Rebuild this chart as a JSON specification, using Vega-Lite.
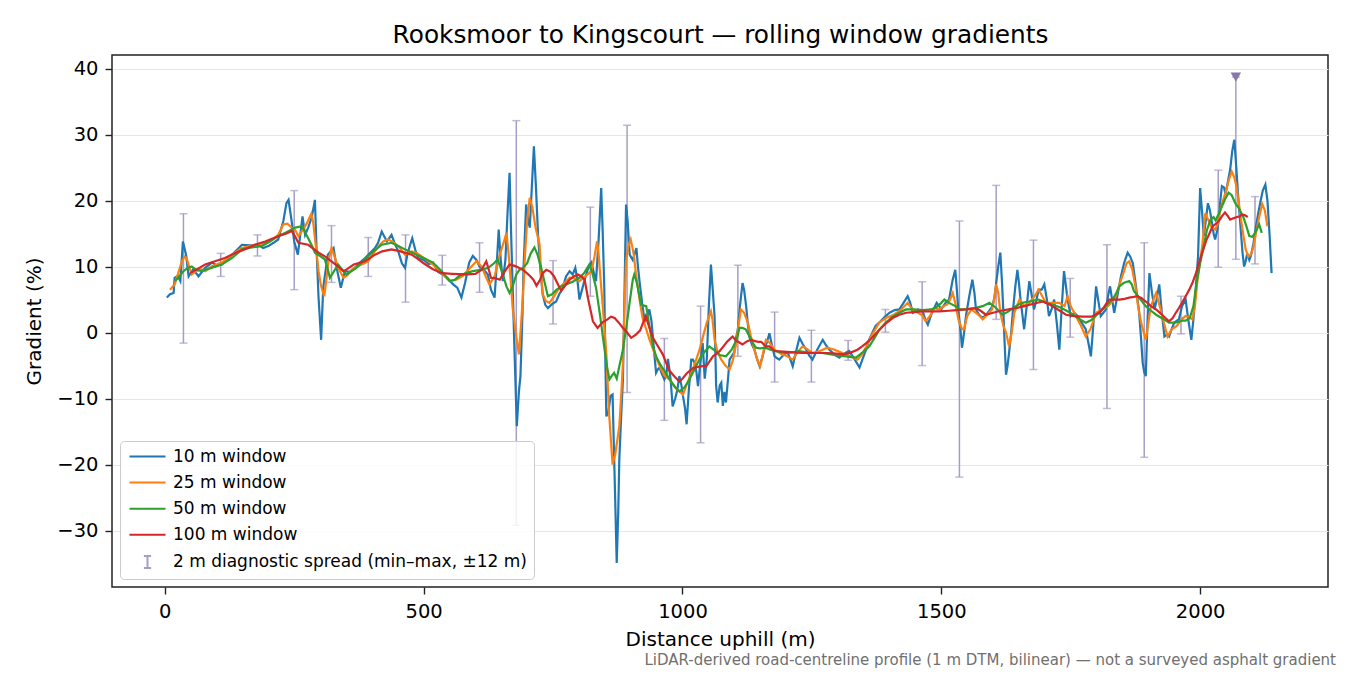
{
  "$schema": "https://vega.github.io/schema/vega-lite/v6.json",
  "autosize": {"type": "none"},
  "padding": {"left": 112, "top": 55, "right": 22, "bottom": 88},
  "background": "white",
  "width": 1216,
  "height": 532,
  "title": {
    "text": "LiDAR-derived road-centreline profile (1 m DTM, bilinear) — not a surveyed asphalt gradient",
    "orient": "bottom", "anchor": "end", "frame": "group",
    "fontSize": 15, "fontWeight": "normal", "color": "#707070",
    "baseline": "alphabetic", "offset": 15, "dx": 8
  },
  "datasets": {
    "w10": [
      {"d":4,"g":5.3},{"d":10,"g":5.8},{"d":17,"g":6.0},{"d":19,"g":8.3},{"d":25,"g":8.6},{"d":30,"g":7.8},{"d":35,"g":13.8},{"d":41,"g":11.8},{"d":46,"g":8.5},{"d":55,"g":9.6},{"d":65,"g":8.5},{"d":78,"g":9.8},{"d":91,"g":10.6},{"d":100,"g":10.2},{"d":110,"g":10.3},{"d":130,"g":11.8},{"d":149,"g":13.3},{"d":165,"g":13.2},{"d":181,"g":13.3},{"d":190,"g":12.8},{"d":200,"g":13.1},{"d":210,"g":13.6},{"d":219,"g":14.1},{"d":229,"g":16.9},{"d":235,"g":19.6},{"d":239,"g":20.1},{"d":245,"g":16.9},{"d":250,"g":13.8},{"d":257,"g":11.8},{"d":262,"g":15},{"d":266,"g":17.6},{"d":271,"g":14.8},{"d":277,"g":15.9},{"d":284,"g":17.5},{"d":290,"g":20.1},{"d":293,"g":12.9},{"d":297,"g":5.3},{"d":302,"g":-1.1},{"d":306,"g":6.8},{"d":315,"g":11.8},{"d":326,"g":12.8},{"d":332,"g":9.8},{"d":340,"g":6.8},{"d":348,"g":9.3},{"d":357,"g":9.2},{"d":367,"g":9.8},{"d":377,"g":10.6},{"d":387,"g":11.3},{"d":396,"g":12},{"d":406,"g":12.8},{"d":412,"g":13.6},{"d":419,"g":15.3},{"d":429,"g":13.8},{"d":438,"g":14.8},{"d":444,"g":13.5},{"d":451,"g":12.3},{"d":458,"g":10.5},{"d":464,"g":9.8},{"d":469,"g":12},{"d":474,"g":13.3},{"d":478,"g":14.3},{"d":484,"g":12.5},{"d":489,"g":11.3},{"d":500,"g":11},{"d":510,"g":10.4},{"d":518,"g":10.6},{"d":528,"g":9.2},{"d":537,"g":8.8},{"d":547,"g":8.2},{"d":557,"g":7.3},{"d":565,"g":6.8},{"d":573,"g":5.3},{"d":580,"g":7.5},{"d":588,"g":10.6},{"d":595,"g":11.6},{"d":602,"g":11},{"d":608,"g":10},{"d":616,"g":9.5},{"d":624,"g":8.8},{"d":630,"g":6.5},{"d":637,"g":5.3},{"d":641,"g":10},{"d":645,"g":15.6},{"d":649,"g":11},{"d":653,"g":7.8},{"d":658,"g":11},{"d":662,"g":18},{"d":666,"g":24.2},{"d":669,"g":15},{"d":672,"g":6.8},{"d":676,"g":-4},{"d":680,"g":-14.2},{"d":684,"g":-9},{"d":687,"g":-6.6},{"d":691,"g":3},{"d":693,"g":9.8},{"d":698,"g":19.4},{"d":702,"g":17},{"d":705,"g":15.9},{"d":709,"g":22},{"d":713,"g":28.2},{"d":717,"g":22},{"d":721,"g":14.8},{"d":726,"g":9},{"d":730,"g":5.8},{"d":735,"g":4.2},{"d":740,"g":3.7},{"d":748,"g":4.3},{"d":756,"g":4.7},{"d":762,"g":5.8},{"d":769,"g":6.8},{"d":775,"g":8.5},{"d":782,"g":9.3},{"d":788,"g":8.8},{"d":793,"g":9.8},{"d":797,"g":8},{"d":801,"g":5},{"d":806,"g":6.5},{"d":811,"g":8},{"d":818,"g":9.8},{"d":824,"g":10.6},{"d":829,"g":9},{"d":833,"g":7.8},{"d":838,"g":14},{"d":843,"g":21.9},{"d":846,"g":15},{"d":849,"g":6.8},{"d":851,"g":-4},{"d":853,"g":-12.7},{"d":857,"g":-12},{"d":861,"g":-9.6},{"d":865,"g":-9.4},{"d":869,"g":-22},{"d":873,"g":-34.9},{"d":876,"g":-27},{"d":878,"g":-19.2},{"d":882,"g":-12},{"d":885,"g":-7.1},{"d":888,"g":6},{"d":891,"g":19.4},{"d":894,"g":17},{"d":898,"g":11.8},{"d":904,"g":11},{"d":911,"g":12.8},{"d":914,"g":10},{"d":917,"g":7.8},{"d":922,"g":4.5},{"d":927,"g":1.7},{"d":932,"g":2.5},{"d":936,"g":3.5},{"d":940,"g":1.8},{"d":943,"g":-0.8},{"d":946,"g":-3.5},{"d":949,"g":-6.1},{"d":953,"g":-5.5},{"d":956,"g":-5.3},{"d":960,"g":-6.2},{"d":965,"g":-7.1},{"d":969,"g":-6.3},{"d":972,"g":-4.0},{"d":977,"g":-7},{"d":981,"g":-11.2},{"d":986,"g":-10},{"d":990,"g":-8.7},{"d":994,"g":-6.6},{"d":998,"g":-8},{"d":1001,"g":-9.6},{"d":1005,"g":-11.5},{"d":1008,"g":-13.9},{"d":1012,"g":-9},{"d":1017,"g":-4.1},{"d":1020,"g":-4.1},{"d":1023,"g":-4.5},{"d":1027,"g":-6},{"d":1030,"g":-8.1},{"d":1034,"g":-5},{"d":1039,"g":-1.6},{"d":1043,"g":-7},{"d":1047,"g":-4},{"d":1051,"g":4},{"d":1055,"g":10.3},{"d":1058,"g":7},{"d":1062,"g":2.5},{"d":1065,"g":-8},{"d":1068,"g":-10.6},{"d":1072,"g":-8},{"d":1075,"g":-7.6},{"d":1078,"g":-11.1},{"d":1081,"g":-9},{"d":1084,"g":-10.6},{"d":1088,"g":-7},{"d":1091,"g":-4.1},{"d":1096,"g":-3.5},{"d":1100,"g":-3},{"d":1103,"g":-1},{"d":1107,"g":0.5},{"d":1111,"g":4},{"d":1116,"g":7.5},{"d":1119,"g":6.5},{"d":1123,"g":4.0},{"d":1126,"g":1.5},{"d":1129,"g":-0.6},{"d":1134,"g":-1.8},{"d":1139,"g":-2.6},{"d":1144,"g":-4},{"d":1149,"g":-5.1},{"d":1154,"g":-3.8},{"d":1158,"g":-2.6},{"d":1163,"g":-1.5},{"d":1168,"g":-0.1},{"d":1173,"g":-2},{"d":1178,"g":-3.6},{"d":1183,"g":-3.9},{"d":1187,"g":-4.1},{"d":1195,"g":-3.4},{"d":1203,"g":-3},{"d":1208,"g":-4},{"d":1213,"g":-5.1},{"d":1219,"g":-3},{"d":1226,"g":-0.8},{"d":1232,"g":-1.7},{"d":1239,"g":-2.6},{"d":1245,"g":-3.5},{"d":1251,"g":-4.1},{"d":1261,"g":-2.5},{"d":1271,"g":-1.1},{"d":1278,"g":-2},{"d":1284,"g":-2.6},{"d":1293,"g":-3.3},{"d":1303,"g":-3.8},{"d":1312,"g":-3.2},{"d":1322,"g":-2.8},{"d":1332,"g":-4},{"d":1342,"g":-5.3},{"d":1348,"g":-4},{"d":1355,"g":-2.5},{"d":1361,"g":-1},{"d":1367,"g":0},{"d":1373,"g":1},{"d":1380,"g":1.5},{"d":1390,"g":2.3},{"d":1400,"g":3},{"d":1410,"g":3.4},{"d":1419,"g":3.5},{"d":1427,"g":4.5},{"d":1435,"g":5.5},{"d":1440,"g":4.5},{"d":1445,"g":3.0},{"d":1455,"g":3.5},{"d":1464,"g":3.2},{"d":1469,"g":2},{"d":1474,"g":1.2},{"d":1482,"g":3},{"d":1491,"g":4.5},{"d":1496,"g":4},{"d":1500,"g":3.5},{"d":1508,"g":4.5},{"d":1515,"g":5.0},{"d":1522,"g":8.0},{"d":1527,"g":9.5},{"d":1530,"g":6.5},{"d":1533,"g":3.2},{"d":1537,"g":0.5},{"d":1540,"g":-2.3},{"d":1544,"g":0},{"d":1548,"g":2.7},{"d":1554,"g":5.5},{"d":1560,"g":8},{"d":1564,"g":6},{"d":1567,"g":3.5},{"d":1573,"g":2.7},{"d":1580,"g":2.2},{"d":1590,"g":3},{"d":1599,"g":4},{"d":1603,"g":5.5},{"d":1606,"g":7.5},{"d":1610,"g":10},{"d":1614,"g":12.1},{"d":1617,"g":8},{"d":1620,"g":3},{"d":1622,"g":-1},{"d":1625,"g":-6.4},{"d":1628,"g":-5},{"d":1631,"g":-3},{"d":1635,"g":0},{"d":1638,"g":3},{"d":1643,"g":7},{"d":1647,"g":9.5},{"d":1650,"g":7.5},{"d":1653,"g":5},{"d":1657,"g":2.5},{"d":1660,"g":0.5},{"d":1665,"g":4},{"d":1670,"g":7.8},{"d":1675,"g":5.5},{"d":1679,"g":3.5},{"d":1684,"g":5},{"d":1688,"g":6.5},{"d":1694,"g":6.5},{"d":1699,"g":7.3},{"d":1704,"g":5},{"d":1708,"g":2.5},{"d":1713,"g":3.5},{"d":1718,"g":5},{"d":1723,"g":1.5},{"d":1728,"g":-2.6},{"d":1732,"g":3},{"d":1737,"g":9.3},{"d":1740,"g":7.5},{"d":1744,"g":5},{"d":1750,"g":2.5},{"d":1757,"g":3},{"d":1763,"g":2.5},{"d":1771,"g":1.5},{"d":1779,"g":0.5},{"d":1784,"g":-1.5},{"d":1789,"g":-3.6},{"d":1794,"g":1.5},{"d":1799,"g":7.0},{"d":1804,"g":4.5},{"d":1808,"g":2.5},{"d":1813,"g":3},{"d":1818,"g":3.5},{"d":1822,"g":5.5},{"d":1826,"g":7.0},{"d":1830,"g":5},{"d":1834,"g":3.0},{"d":1840,"g":5.5},{"d":1847,"g":8.5},{"d":1853,"g":10.5},{"d":1860,"g":12.1},{"d":1865,"g":11.5},{"d":1870,"g":10.5},{"d":1876,"g":7},{"d":1882,"g":3.2},{"d":1886,"g":-1},{"d":1889,"g":-4.6},{"d":1892,"g":-6},{"d":1895,"g":-6.6},{"d":1898,"g":1},{"d":1902,"g":9.0},{"d":1907,"g":6},{"d":1912,"g":3.5},{"d":1916,"g":5},{"d":1921,"g":7.3},{"d":1926,"g":3},{"d":1931,"g":-0.6},{"d":1936,"g":-0.3},{"d":1940,"g":-0.6},{"d":1945,"g":0.5},{"d":1950,"g":1.5},{"d":1955,"g":1.8},{"d":1959,"g":2},{"d":1965,"g":4},{"d":1972,"g":5},{"d":1977,"g":2},{"d":1983,"g":-1.1},{"d":1987,"g":2},{"d":1991,"g":6},{"d":1996,"g":11.6},{"d":2000,"g":21.9},{"d":2004,"g":18},{"d":2007,"g":14.6},{"d":2011,"g":17},{"d":2015,"g":19.6},{"d":2019,"g":18.5},{"d":2022,"g":17},{"d":2026,"g":15},{"d":2029,"g":14.1},{"d":2033,"g":15.5},{"d":2036,"g":17},{"d":2039,"g":20},{"d":2042,"g":22.2},{"d":2046,"g":22},{"d":2049,"g":21},{"d":2054,"g":23},{"d":2058,"g":24.7},{"d":2062,"g":27.5},{"d":2066,"g":29.2},{"d":2069,"g":26},{"d":2073,"g":21.2},{"d":2076,"g":18},{"d":2079,"g":15},{"d":2082,"g":12},{"d":2085,"g":10},{"d":2088,"g":10.8},{"d":2091,"g":12},{"d":2095,"g":11},{"d":2098,"g":11.6},{"d":2103,"g":13.5},{"d":2108,"g":16.1},{"d":2112,"g":18},{"d":2117,"g":20},{"d":2121,"g":21.5},{"d":2126,"g":22.4},{"d":2130,"g":20},{"d":2134,"g":15},{"d":2138,"g":9.0}
    ],
    "w25": [
      {"d":10,"g":6.5},{"d":19,"g":7.3},{"d":26,"g":9},{"d":33,"g":10.8},{"d":38,"g":11.5},{"d":42,"g":11.3},{"d":47,"g":10},{"d":52,"g":8.8},{"d":60,"g":9.3},{"d":70,"g":9.6},{"d":78,"g":9.3},{"d":90,"g":10},{"d":100,"g":10.3},{"d":110,"g":10.6},{"d":130,"g":11.8},{"d":149,"g":12.8},{"d":170,"g":13.2},{"d":194,"g":13.6},{"d":210,"g":14.2},{"d":219,"g":14.8},{"d":229,"g":16.4},{"d":237,"g":16.5},{"d":245,"g":15.9},{"d":252,"g":15.5},{"d":258,"g":14.6},{"d":266,"g":15.5},{"d":274,"g":16.5},{"d":283,"g":18.0},{"d":287,"g":16.5},{"d":290,"g":14.3},{"d":294,"g":11.5},{"d":297,"g":9.3},{"d":302,"g":7},{"d":308,"g":5.5},{"d":312,"g":8},{"d":316,"g":10.8},{"d":322,"g":12.8},{"d":328,"g":11.5},{"d":335,"g":9.8},{"d":345,"g":8.3},{"d":353,"g":8.7},{"d":362,"g":9.6},{"d":377,"g":10.2},{"d":393,"g":10.8},{"d":403,"g":12},{"d":413,"g":13.1},{"d":422,"g":13.8},{"d":432,"g":14.1},{"d":441,"g":13.7},{"d":451,"g":13.1},{"d":464,"g":11.8},{"d":477,"g":12.3},{"d":486,"g":12.1},{"d":500,"g":11.3},{"d":518,"g":10.3},{"d":535,"g":9},{"d":550,"g":7.8},{"d":563,"g":8},{"d":576,"g":8.6},{"d":590,"g":9.8},{"d":602,"g":10.8},{"d":612,"g":10},{"d":620,"g":8.5},{"d":627,"g":7.3},{"d":637,"g":8.5},{"d":647,"g":11.8},{"d":654,"g":13.5},{"d":660,"g":15.1},{"d":664,"g":12},{"d":668,"g":8},{"d":672,"g":3.7},{"d":678,"g":0},{"d":684,"g":-3.3},{"d":688,"g":1},{"d":692,"g":5.8},{"d":696,"g":12},{"d":700,"g":17},{"d":705,"g":20.4},{"d":710,"g":19},{"d":716,"g":16},{"d":724,"g":13.3},{"d":727,"g":9},{"d":730,"g":5.8},{"d":736,"g":4.8},{"d":743,"g":4.5},{"d":752,"g":5.5},{"d":762,"g":6.8},{"d":772,"g":7.5},{"d":782,"g":8.3},{"d":792,"g":8.2},{"d":801,"g":7.8},{"d":812,"g":8.5},{"d":824,"g":9.3},{"d":830,"g":11.5},{"d":835,"g":13.8},{"d":838,"g":12},{"d":840,"g":9.8},{"d":846,"g":4},{"d":853,"g":-3.3},{"d":858,"g":-12},{"d":865,"g":-20},{"d":870,"g":-18.5},{"d":878,"g":-14.2},{"d":882,"g":-9},{"d":885,"g":-4.6},{"d":888,"g":4},{"d":891,"g":10.8},{"d":895,"g":13},{"d":900,"g":14.1},{"d":903,"g":13},{"d":906,"g":11.8},{"d":910,"g":9},{"d":914,"g":6.8},{"d":918,"g":4.5},{"d":923,"g":2.2},{"d":930,"g":0.5},{"d":936,"g":-1},{"d":943,"g":-2.5},{"d":950,"g":-4},{"d":956,"g":-5.1},{"d":965,"g":-6.5},{"d":975,"g":-7.1},{"d":988,"g":-8.5},{"d":1001,"g":-9.4},{"d":1010,"g":-7.5},{"d":1020,"g":-5.6},{"d":1027,"g":-4},{"d":1033,"g":-2.6},{"d":1040,"g":-0.5},{"d":1047,"g":1.5},{"d":1055,"g":3.2},{"d":1058,"g":2},{"d":1062,"g":-1.1},{"d":1068,"g":-3},{"d":1075,"g":-4.1},{"d":1083,"g":-5},{"d":1091,"g":-5.6},{"d":1097,"g":-4.3},{"d":1103,"g":-2},{"d":1108,"g":1},{"d":1113,"g":3.5},{"d":1119,"g":3},{"d":1126,"g":1.6},{"d":1132,"g":-0.5},{"d":1139,"g":-2.6},{"d":1145,"g":-4.2},{"d":1150,"g":-5.1},{"d":1155,"g":-3.5},{"d":1161,"g":-1.1},{"d":1168,"g":-1.5},{"d":1178,"g":-2.6},{"d":1190,"g":-3.2},{"d":1200,"g":-3.5},{"d":1213,"g":-4.1},{"d":1222,"g":-3},{"d":1232,"g":-2.1},{"d":1241,"g":-2.5},{"d":1251,"g":-3.1},{"d":1265,"g":-2.8},{"d":1280,"g":-2.3},{"d":1294,"g":-2.6},{"d":1309,"g":-3.1},{"d":1322,"g":-3.5},{"d":1330,"g":-3.8},{"d":1338,"g":-4.1},{"d":1346,"g":-3.4},{"d":1355,"g":-2.1},{"d":1365,"g":-0.5},{"d":1380,"g":1.5},{"d":1393,"g":2.2},{"d":1406,"g":2.6},{"d":1420,"g":3.3},{"d":1435,"g":4.5},{"d":1444,"g":3.5},{"d":1455,"g":3},{"d":1463,"g":2.6},{"d":1470,"g":1.7},{"d":1478,"g":2.5},{"d":1487,"g":3.7},{"d":1496,"g":3.5},{"d":1505,"g":4},{"d":1512,"g":4.3},{"d":1517,"g":5},{"d":1522,"g":6.0},{"d":1527,"g":4.5},{"d":1533,"g":2},{"d":1540,"g":0.5},{"d":1544,"g":0.5},{"d":1550,"g":2.5},{"d":1558,"g":3.5},{"d":1567,"g":3},{"d":1574,"g":2.5},{"d":1580,"g":2.0},{"d":1590,"g":2.8},{"d":1598,"g":3.5},{"d":1602,"g":5},{"d":1606,"g":7.3},{"d":1610,"g":6},{"d":1614,"g":3},{"d":1620,"g":1},{"d":1625,"g":0},{"d":1631,"g":-2.1},{"d":1636,"g":0},{"d":1641,"g":3},{"d":1651,"g":5},{"d":1660,"g":4},{"d":1670,"g":4.5},{"d":1680,"g":5.5},{"d":1688,"g":6.5},{"d":1695,"g":5.5},{"d":1702,"g":4.5},{"d":1715,"g":4.5},{"d":1728,"g":4.5},{"d":1738,"g":4},{"d":1744,"g":5.5},{"d":1750,"g":4},{"d":1760,"g":2.5},{"d":1770,"g":1},{"d":1779,"g":-0.6},{"d":1788,"g":0.5},{"d":1799,"g":3},{"d":1810,"g":3.5},{"d":1822,"g":4},{"d":1831,"g":4.8},{"d":1837,"g":5.5},{"d":1845,"g":7.5},{"d":1853,"g":9.3},{"d":1858,"g":10.5},{"d":1863,"g":10.8},{"d":1869,"g":9.5},{"d":1875,"g":7},{"d":1880,"g":4},{"d":1886,"g":1.5},{"d":1891,"g":0},{"d":1895,"g":-1.1},{"d":1900,"g":1.5},{"d":1905,"g":4},{"d":1915,"g":6.0},{"d":1922,"g":4},{"d":1930,"g":1.5},{"d":1937,"g":-0.6},{"d":1945,"g":0.5},{"d":1955,"g":1},{"d":1964,"g":2},{"d":1972,"g":2.5},{"d":1979,"g":2.3},{"d":1985,"g":2},{"d":1990,"g":4},{"d":1995,"g":8},{"d":2000,"g":11},{"d":2004,"g":13.1},{"d":2010,"g":18.1},{"d":2016,"g":17},{"d":2022,"g":16},{"d":2029,"g":15.6},{"d":2034,"g":16.5},{"d":2039,"g":18.6},{"d":2044,"g":20},{"d":2049,"g":21.2},{"d":2055,"g":23},{"d":2061,"g":24.4},{"d":2066,"g":23.5},{"d":2070,"g":22.2},{"d":2075,"g":19.5},{"d":2079,"g":17.1},{"d":2084,"g":14.5},{"d":2088,"g":12.6},{"d":2093,"g":11.5},{"d":2098,"g":11.8},{"d":2103,"g":13},{"d":2108,"g":15.1},{"d":2114,"g":17.5},{"d":2120,"g":19.5},{"d":2125,"g":18.5},{"d":2130,"g":16.1}
    ],
    "w50": [
      {"d":20,"g":7.8},{"d":28,"g":8.5},{"d":36,"g":9.3},{"d":44,"g":9.8},{"d":52,"g":10.0},{"d":61,"g":9.5},{"d":71,"g":9.3},{"d":90,"g":9.8},{"d":110,"g":10.3},{"d":130,"g":11.3},{"d":149,"g":12.6},{"d":168,"g":12.9},{"d":187,"g":13.1},{"d":203,"g":13.8},{"d":219,"g":14.6},{"d":235,"g":15.2},{"d":252,"g":15.9},{"d":265,"g":16.1},{"d":277,"g":14.3},{"d":284,"g":13.2},{"d":290,"g":12.1},{"d":300,"g":11.6},{"d":309,"g":11.1},{"d":314,"g":9.8},{"d":319,"g":8.3},{"d":327,"g":9.3},{"d":335,"g":10.3},{"d":343,"g":9.5},{"d":351,"g":8.8},{"d":370,"g":9.8},{"d":387,"g":11.1},{"d":403,"g":12.3},{"d":419,"g":13.3},{"d":438,"g":13.6},{"d":451,"g":13.1},{"d":464,"g":12.6},{"d":486,"g":11.8},{"d":500,"g":11.3},{"d":518,"g":10.6},{"d":535,"g":9.3},{"d":550,"g":7.8},{"d":560,"g":8},{"d":569,"g":8.6},{"d":582,"g":9},{"d":595,"g":9.3},{"d":610,"g":9.5},{"d":625,"g":9.8},{"d":636,"g":10.5},{"d":643,"g":11.1},{"d":648,"g":10},{"d":653,"g":8.8},{"d":660,"g":7},{"d":666,"g":6.0},{"d":672,"g":7},{"d":679,"g":8.8},{"d":685,"g":9.5},{"d":692,"g":9.8},{"d":700,"g":10.5},{"d":707,"g":12},{"d":714,"g":12.9},{"d":720,"g":11.8},{"d":727,"g":9.8},{"d":734,"g":7.5},{"d":740,"g":5.5},{"d":748,"g":5.8},{"d":757,"g":6.5},{"d":766,"g":7},{"d":775,"g":7.3},{"d":788,"g":7.7},{"d":801,"g":8.3},{"d":810,"g":9},{"d":820,"g":10.3},{"d":826,"g":9},{"d":833,"g":6.8},{"d":841,"g":2.5},{"d":849,"g":-2.3},{"d":855,"g":-5.5},{"d":859,"g":-7.1},{"d":864,"g":-6.5},{"d":868,"g":-6.1},{"d":873,"g":-7},{"d":878,"g":-5.1},{"d":884,"g":-3},{"d":891,"g":0.5},{"d":897,"g":4},{"d":904,"g":8},{"d":907,"g":8.8},{"d":912,"g":7.5},{"d":920,"g":4.2},{"d":930,"g":4},{"d":936,"g":1},{"d":943,"g":-2.1},{"d":950,"g":-3.8},{"d":959,"g":-5.1},{"d":967,"g":-6},{"d":975,"g":-7.1},{"d":985,"g":-8.2},{"d":994,"g":-8.9},{"d":1004,"g":-8.3},{"d":1012,"g":-7.3},{"d":1020,"g":-6.1},{"d":1028,"g":-4.8},{"d":1036,"g":-3.6},{"d":1044,"g":-2.8},{"d":1052,"g":-2.1},{"d":1062,"g":-2.7},{"d":1072,"g":-3.4},{"d":1084,"g":-3.6},{"d":1095,"g":-2.6},{"d":1105,"g":-1},{"d":1110,"g":0.7},{"d":1116,"g":0.7},{"d":1122,"g":0.5},{"d":1129,"g":-0.5},{"d":1136,"g":-1.6},{"d":1142,"g":-2.3},{"d":1150,"g":-2.4},{"d":1160,"g":-2.3},{"d":1170,"g":-2.6},{"d":1185,"g":-2.9},{"d":1198,"g":-3.1},{"d":1212,"g":-3},{"d":1225,"g":-2.8},{"d":1240,"g":-3},{"d":1255,"g":-3.1},{"d":1270,"g":-3.1},{"d":1293,"g":-3.4},{"d":1315,"g":-3.6},{"d":1335,"g":-3.8},{"d":1348,"g":-3},{"d":1361,"g":-2.1},{"d":1371,"g":-0.8},{"d":1380,"g":0.4},{"d":1393,"g":1.5},{"d":1406,"g":2.4},{"d":1419,"g":3},{"d":1432,"g":3.5},{"d":1446,"g":3.5},{"d":1464,"g":3.4},{"d":1480,"g":3.5},{"d":1490,"g":3.8},{"d":1500,"g":4.5},{"d":1506,"g":5.0},{"d":1515,"g":4.5},{"d":1527,"g":4},{"d":1535,"g":3.5},{"d":1550,"g":3.5},{"d":1565,"g":3.7},{"d":1580,"g":4},{"d":1593,"g":4.5},{"d":1605,"g":3.8},{"d":1618,"g":2.7},{"d":1630,"g":3.2},{"d":1644,"g":4},{"d":1656,"g":4.5},{"d":1670,"g":4.7},{"d":1688,"g":5.0},{"d":1700,"g":4.6},{"d":1715,"g":4.2},{"d":1730,"g":3.8},{"d":1742,"g":3.3},{"d":1755,"g":2.7},{"d":1768,"g":2},{"d":1779,"g":1.5},{"d":1790,"g":1.9},{"d":1802,"g":2.8},{"d":1815,"g":3.8},{"d":1825,"g":4.6},{"d":1831,"g":5.0},{"d":1838,"g":6},{"d":1844,"g":7.0},{"d":1852,"g":7.5},{"d":1863,"g":7.8},{"d":1868,"g":7.3},{"d":1872,"g":6.3},{"d":1880,"g":5.5},{"d":1888,"g":4.7},{"d":1895,"g":4},{"d":1905,"g":3.3},{"d":1915,"g":2.7},{"d":1928,"g":2.1},{"d":1940,"g":1.5},{"d":1952,"g":1.5},{"d":1966,"g":1.8},{"d":1972,"g":1.8},{"d":1980,"g":2.2},{"d":1987,"g":4},{"d":1993,"g":7.5},{"d":2000,"g":10.5},{"d":2007,"g":13.1},{"d":2013,"g":15.5},{"d":2020,"g":17.1},{"d":2026,"g":17.5},{"d":2030,"g":17.0},{"d":2036,"g":18},{"d":2042,"g":19.1},{"d":2048,"g":20.2},{"d":2055,"g":21.2},{"d":2061,"g":20.8},{"d":2068,"g":19.6},{"d":2075,"g":18.8},{"d":2083,"g":17.6},{"d":2089,"g":16.2},{"d":2095,"g":14.6},{"d":2101,"g":14.5},{"d":2107,"g":15.2},{"d":2114,"g":16.4},{"d":2119,"g":15.1}
    ],
    "w100": [
      {"d":49,"g":9.0},{"d":60,"g":9.5},{"d":78,"g":10.3},{"d":97,"g":10.8},{"d":116,"g":11.3},{"d":135,"g":12},{"d":154,"g":12.6},{"d":174,"g":13.3},{"d":194,"g":13.8},{"d":219,"g":14.6},{"d":235,"g":15},{"d":245,"g":15.4},{"d":252,"g":14.5},{"d":258,"g":13.6},{"d":277,"g":13.3},{"d":297,"g":12.1},{"d":310,"g":11.5},{"d":322,"g":10.8},{"d":335,"g":10},{"d":345,"g":9.3},{"d":352,"g":9.6},{"d":365,"g":10.3},{"d":387,"g":10.8},{"d":406,"g":11.8},{"d":420,"g":12.3},{"d":438,"g":12.6},{"d":455,"g":12.3},{"d":477,"g":11.8},{"d":486,"g":11.3},{"d":500,"g":10.5},{"d":518,"g":9.6},{"d":536,"g":9.0},{"d":555,"g":8.9},{"d":582,"g":8.8},{"d":600,"g":8.9},{"d":612,"g":9.5},{"d":621,"g":10.8},{"d":626,"g":9.5},{"d":630,"g":8.3},{"d":640,"g":8.2},{"d":647,"g":8},{"d":656,"g":9.2},{"d":666,"g":10.3},{"d":676,"g":10.1},{"d":685,"g":9.8},{"d":695,"g":9.3},{"d":705,"g":8.6},{"d":712,"g":8},{"d":718,"g":7.1},{"d":725,"g":8},{"d":730,"g":9},{"d":737,"g":9.5},{"d":745,"g":9.2},{"d":752,"g":8.5},{"d":760,"g":7.2},{"d":766,"g":6.3},{"d":774,"g":7.2},{"d":782,"g":8},{"d":790,"g":8.5},{"d":798,"g":8.8},{"d":805,"g":8.5},{"d":811,"g":8},{"d":818,"g":5},{"d":827,"g":1.7},{"d":836,"g":0.7},{"d":845,"g":1.5},{"d":855,"g":2},{"d":862,"g":2.4},{"d":869,"g":2.2},{"d":877,"g":1.5},{"d":885,"g":0.7},{"d":893,"g":0},{"d":901,"g":-0.8},{"d":910,"g":-0.3},{"d":918,"g":0.3},{"d":924,"g":1.5},{"d":929,"g":2.5},{"d":935,"g":1},{"d":943,"g":-0.8},{"d":952,"g":-2},{"d":962,"g":-3.3},{"d":968,"g":-4.5},{"d":975,"g":-5.8},{"d":985,"g":-6.7},{"d":994,"g":-7.4},{"d":1000,"g":-7},{"d":1008,"g":-6.2},{"d":1020,"g":-5.4},{"d":1030,"g":-5.2},{"d":1039,"g":-5.1},{"d":1046,"g":-5.1},{"d":1052,"g":-4.4},{"d":1059,"g":-3.6},{"d":1066,"g":-3.2},{"d":1072,"g":-2.8},{"d":1078,"g":-2.2},{"d":1086,"g":-1.4},{"d":1094,"g":-0.8},{"d":1097,"g":-0.6},{"d":1103,"g":-1.2},{"d":1110,"g":-1.5},{"d":1116,"g":-1.8},{"d":1125,"g":-1.3},{"d":1133,"g":-1.1},{"d":1140,"g":-1.3},{"d":1147,"g":-1.4},{"d":1152,"g":-1.4},{"d":1161,"g":-2.1},{"d":1168,"g":-2.1},{"d":1178,"g":-2.8},{"d":1195,"g":-2.9},{"d":1215,"g":-3},{"d":1230,"g":-3.1},{"d":1249,"g":-3.1},{"d":1265,"g":-3.1},{"d":1280,"g":-3.1},{"d":1298,"g":-3.2},{"d":1313,"g":-3.3},{"d":1326,"g":-3},{"d":1338,"g":-2.6},{"d":1347,"g":-2.1},{"d":1355,"g":-1.6},{"d":1365,"g":-0.9},{"d":1374,"g":-0.1},{"d":1390,"g":1.2},{"d":1406,"g":2.2},{"d":1419,"g":2.7},{"d":1432,"g":3.0},{"d":1448,"g":3.1},{"d":1464,"g":3.2},{"d":1480,"g":3.2},{"d":1496,"g":3.2},{"d":1515,"g":3.3},{"d":1530,"g":3.4},{"d":1547,"g":3.5},{"d":1567,"g":3.7},{"d":1576,"g":3.3},{"d":1586,"g":2.7},{"d":1600,"g":3},{"d":1615,"g":3.3},{"d":1630,"g":3.5},{"d":1644,"g":3.7},{"d":1660,"g":4},{"d":1680,"g":4.4},{"d":1696,"g":4.7},{"d":1710,"g":4.2},{"d":1725,"g":3.5},{"d":1741,"g":2.7},{"d":1757,"g":2.5},{"d":1773,"g":2.4},{"d":1790,"g":2.4},{"d":1805,"g":3},{"d":1814,"g":3.8},{"d":1824,"g":5.0},{"d":1834,"g":5},{"d":1844,"g":5.0},{"d":1854,"g":5.1},{"d":1863,"g":5.3},{"d":1872,"g":5.4},{"d":1879,"g":5.5},{"d":1887,"g":5.2},{"d":1895,"g":4.7},{"d":1905,"g":4},{"d":1915,"g":3.5},{"d":1925,"g":2.8},{"d":1933,"g":2.2},{"d":1940,"g":1.7},{"d":1947,"g":2.2},{"d":1953,"g":3},{"d":1959,"g":3.7},{"d":1965,"g":4.5},{"d":1972,"g":5.5},{"d":1979,"g":6.5},{"d":1985,"g":7.5},{"d":1992,"g":9},{"d":1998,"g":10.6},{"d":2004,"g":12.1},{"d":2012,"g":14},{"d":2018,"g":15},{"d":2024,"g":16.1},{"d":2031,"g":16.5},{"d":2037,"g":17},{"d":2042,"g":17.6},{"d":2048,"g":18.2},{"d":2053,"g":17.7},{"d":2058,"g":17.1},{"d":2064,"g":17.3},{"d":2071,"g":17.5},{"d":2077,"g":17.6},{"d":2080,"g":17.9},{"d":2086,"g":17.8},{"d":2092,"g":17.5}
    ],
    "spread": [
      {"d":36,"lo":-1.6,"hi":18.0},{"d":108,"lo":8.5,"hi":12.0},{"d":179,"lo":11.6,"hi":14.8},{"d":250,"lo":6.5,"hi":21.5},{"d":322,"lo":7.6,"hi":16.2},{"d":393,"lo":8.5,"hi":14.4},{"d":465,"lo":4.6,"hi":14.8},{"d":536,"lo":7.2,"hi":11.7},{"d":608,"lo":6.1,"hi":13.6},{"d":679,"lo":-29.2,"hi":32.1},{"d":750,"lo":1.3,"hi":10.9},{"d":822,"lo":5.5,"hi":19.0},{"d":893,"lo":-9.1,"hi":31.4},{"d":965,"lo":-13.3,"hi":-0.9},{"d":1035,"lo":-16.7,"hi":4.0},{"d":1107,"lo":-3.6,"hi":10.2},{"d":1178,"lo":-7.5,"hi":3.1},{"d":1249,"lo":-7.5,"hi":0.35},{"d":1320,"lo":-4.2,"hi":-1.2},{"d":1392,"lo":0.05,"hi":3.5},{"d":1463,"lo":-5.0,"hi":7.7},{"d":1535,"lo":-21.9,"hi":16.9},{"d":1606,"lo":2.0,"hi":22.3},{"d":1678,"lo":-5.6,"hi":14.0},{"d":1749,"lo":-0.7,"hi":8.2},{"d":1820,"lo":-11.5,"hi":13.3},{"d":1892,"lo":-18.9,"hi":13.6},{"d":1963,"lo":-0.2,"hi":5.5},{"d":2035,"lo":9.9,"hi":24.6},{"d":2069,"lo":11.1,"hi":38.7},{"d":2106,"lo":10.4,"hi":20.6}
    ],
    "peak": [{"d":2069,"g":38.7}],
    "keys": [
      {"s":"10 m window"},{"s":"25 m window"},{"s":"50 m window"},{"s":"100 m window"},{"s":"2 m diagnostic spread (min–max, ±12 m)"}
    ]
  },
  "resolve": {"axis": {"x": "independent"}},
  "encoding": {
    "x": {
      "field": "d", "type": "quantitative", "title": "Distance uphill (m)",
      "scale": {"domain": [-102, 2247], "nice": false, "zero": false},
      "axis": null
    },
    "y": {
      "field": "g", "type": "quantitative", "title": "Gradient (%)",
      "scale": {"domain": [-38.55, 42.05], "nice": false, "zero": false},
      "axis": {"values": [-30, -20, -10, 0, 10, 20, 30, 40], "format": "d"}
    }
  },
  "layer": [
    {
      "data": {"name": "spread"},
      "mark": {"type": "errorbar", "ticks": true, "size": 8, "thickness": 1.5, "color": "#a79ec5"},
      "encoding": {
        "y": {"field": "lo", "type": "quantitative", "title": "Gradient (%)"},
        "y2": {"field": "hi"}
      }
    },
    {
      "data": {"name": "peak"},
      "mark": {"type": "point", "shape": "triangle-down", "filled": true, "size": 110, "color": "#8878a9", "opacity": 1},
      "encoding": {
        "x": {
          "field": "d", "type": "quantitative", "title": "Rooksmoor to Kingscourt — rolling window gradients",
          "scale": {"domain": [-102, 2247], "nice": false, "zero": false},
          "axis": {
            "orient": "top", "labels": false, "ticks": false, "domain": false, "grid": false,
            "titleFontSize": 24.8, "titleBaseline": "alphabetic", "titlePadding": 12.5
          }
        }
      }
    },
    {
      "data": {"name": "w10"},
      "mark": {"type": "line", "strokeWidth": 2.2, "color": "#1f77b4"},
      "encoding": {
        "x": {
          "field": "d", "type": "quantitative", "title": "Distance uphill (m)",
          "scale": {"domain": [-102, 2247], "nice": false, "zero": false},
          "axis": {"values": [0, 500, 1000, 1500, 2000], "format": "d"}
        }
      }
    },
    {
      "data": {"name": "w25"},
      "mark": {"type": "line", "strokeWidth": 2.2, "color": "#ff7f0e"}
    },
    {
      "data": {"name": "w50"},
      "mark": {"type": "line", "strokeWidth": 2.2, "color": "#2ca02c"}
    },
    {
      "data": {"name": "w100"},
      "mark": {"type": "line", "strokeWidth": 2.2, "color": "#d62728"}
    },
    {
      "data": {"name": "keys"},
      "transform": [{"filter": "false"}],
      "mark": {"type": "point", "filled": false, "strokeWidth": 2, "size": 100, "opacity": 1},
      "encoding": {
        "color": {
          "field": "s", "type": "nominal",
          "scale": {
            "domain": ["10 m window", "25 m window", "50 m window", "100 m window", "2 m diagnostic spread (min–max, ±12 m)"],
            "range": ["#1f77b4", "#ff7f0e", "#2ca02c", "#d62728", "#a79ec5"]
          },
          "legend": {
            "title": null, "orient": "bottom-left", "offset": 8, "padding": 7,
            "fillColor": "rgba(255,255,255,0.85)", "strokeColor": "#cccccc", "cornerRadius": 4,
            "labelFont": "DejaVu Sans", "labelFontSize": 17, "labelColor": "#000000", "labelLimit": 800,
            "symbolSize": 100, "symbolStrokeWidth": 2, "symbolOffset": 12, "labelOffset": 17, "rowPadding": 8.1,
            "symbolFillColor": "transparent", "symbolOpacity": 1
          }
        },
        "shape": {
          "field": "s", "type": "nominal",
          "scale": {
            "domain": ["10 m window", "25 m window", "50 m window", "100 m window", "2 m diagnostic spread (min–max, ±12 m)"],
            "range": ["M-3.6,0H3.6", "M-3.6,0H3.6", "M-3.6,0H3.6", "M-3.6,0H3.6", "M-0.72,-1.2H0.72M0,-1.2V1.2M-0.72,1.2H0.72"]
          },
          "legend": {
            "title": null, "orient": "bottom-left", "offset": 8, "padding": 7,
            "fillColor": "rgba(255,255,255,0.85)", "strokeColor": "#cccccc", "cornerRadius": 4,
            "labelFont": "DejaVu Sans", "labelFontSize": 17, "labelColor": "#000000", "labelLimit": 800,
            "symbolSize": 100, "symbolStrokeWidth": 2, "symbolOffset": 12, "labelOffset": 17, "rowPadding": 8.1,
            "symbolFillColor": "transparent", "symbolOpacity": 1
          }
        }
      }
    }
  ],
  "config": {
    "font": "DejaVu Sans",
    "view": {"stroke": "#222222", "strokeWidth": 1.5},
    "axis": {
      "domain": false, "grid": true, "gridColor": "#e6e6e6", "gridWidth": 1.2,
      "tickColor": "#222222", "tickSize": 7, "tickWidth": 1.4,
      "labelFont": "DejaVu Sans", "labelFontSize": 19.5, "labelColor": "#000000",
      "titleFont": "DejaVu Sans", "titleFontSize": 20, "titleFontWeight": "normal", "titleColor": "#000000"
    },
    "axisX": {"labelPadding": 8, "titlePadding": 9},
    "axisY": {"labelPadding": 7, "titlePadding": 12}
  }
}
